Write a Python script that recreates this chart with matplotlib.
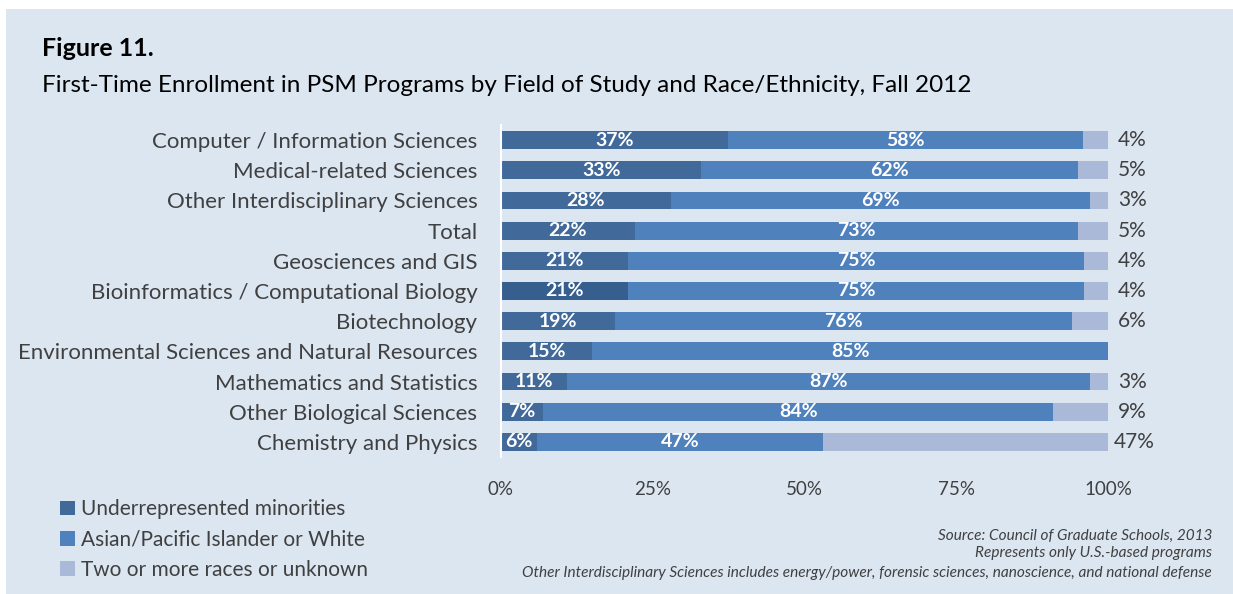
import matplotlib.pyplot as plt
from matplotlib.patches import Rectangle

# Data (percent shares, top row first)
fields = ['Computer / Information Sciences', 'Medical-related Sciences',
          'Other Interdisciplinary Sciences', 'Total', 'Geosciences and GIS',
          'Bioinformatics / Computational Biology', 'Biotechnology',
          'Environmental Sciences and Natural Resources',
          'Mathematics and Statistics', 'Other Biological Sciences',
          'Chemistry and Physics']
minorities = [37, 33, 28, 22, 21, 21, 19, 15, 11, 7, 6]
asian_white = [58, 62, 69, 73, 75, 75, 76, 85, 87, 84, 47]
two_or_more = [4, 5, 3, 5, 4, 4, 6, 0, 3, 9, 47]
series_names = ['Underrepresented minorities', 'Asian/Pacific Islander or White',
                'Two or more races or unknown']
x_ticks = [0, 0.25, 0.5, 0.75, 1.0]
x_ticklabels = ['0%', '25%', '50%', '75%', '100%']
notes = ['Source: Council of Graduate Schools, 2013',
         'Represents only U.S.-based programs',
         'Other Interdisciplinary Sciences includes energy/power, forensic sciences, nanoscience, and national defense']

BG = '#dce6f1'
DARK = '#416a9b'
MID = '#4f81bd'
LIGHT = '#aab9d7'
TXT = '#404040'
FONT = 'Lato'

plt.rcParams['font.family'] = FONT

fig = plt.figure(figsize=(12.33, 5.94), dpi=100)
fig.patch.set_facecolor('white')
# light blue panel
fig.add_artist(Rectangle((6 / 1233, 0), 1, 1 - 9 / 594, transform=fig.transFigure,
                         facecolor=BG, edgecolor='none', zorder=-10))

ax = fig.add_axes([501 / 1233, 1 - 457 / 594, 607 / 1233, 332 / 594])
ax.patch.set_alpha(0)

n = len(fields)
ypos = list(range(n - 1, -1, -1))
totals = [a + b + c for a, b, c in zip(minorities, asian_white, two_or_more)]
s1 = [a / t for a, t in zip(minorities, totals)]
s2 = [b / t for b, t in zip(asian_white, totals)]
s3 = [c / t for c, t in zip(two_or_more, totals)]
left2 = s1
left3 = [a + b for a, b in zip(s1, s2)]

h = 0.59
dark_colors = [DARK] * n
dark_colors[fields.index('Bioinformatics / Computational Biology')] = '#365e8f'
b1 = ax.barh(ypos, s1, height=h, color=dark_colors, edgecolor='none', label=series_names[0])
b2 = ax.barh(ypos, s2, left=left2, height=h, color=MID, edgecolor='none', label=series_names[1])
b3 = ax.barh(ypos, s3, left=left3, height=h, color=LIGHT, edgecolor='none', label=series_names[2])

for i in range(n):
    y = ypos[i]
    ax.text(s1[i] / 2, y, f'{minorities[i]}%', ha='center', va='center',
            color='white', fontsize=14, fontweight='bold')
    ax.text(left2[i] + s2[i] / 2, y, f'{asian_white[i]}%', ha='center', va='center',
            color='white', fontsize=14, fontweight='bold')
    if two_or_more[i] > 0:
        ax.text(1.0 + 0.016 if two_or_more[i] < 10 else 1.0 + 0.01, y,
                f'{two_or_more[i]}%', ha='left', va='center', color=TXT, fontsize=15)

ax.set_xlim(0, 1)
ax.set_ylim(-0.5, n - 0.5)
ax.set_yticks(ypos)
ax.set_yticklabels(fields, fontsize=16, color=TXT)
ax.set_xticks(x_ticks)
ax.set_xticklabels(x_ticklabels, fontsize=13.5, color=TXT)
ax.tick_params(axis='y', length=0, pad=17)
ax.tick_params(axis='x', length=0, pad=17)
for side in ['top', 'right', 'bottom']:
    ax.spines[side].set_visible(False)
ax.spines['left'].set_color('white')
ax.spines['left'].set_linewidth(1.5)

# Titles
fig.text(42 / 1233, 1 - 48 / 594, 'Figure 11.', fontsize=18, fontweight='bold',
         color='black', va='center', ha='left')
fig.text(42 / 1233, 1 - 86 / 594,
         'First-Time Enrollment in PSM Programs by Field of Study and Race/Ethnicity, Fall 2012',
         fontsize=17.5, color='black', va='center', ha='left')

# Legend
leg = fig.legend([b1.patches[0], b2.patches[0], b3.patches[0]], series_names,
                 loc='upper left', bbox_to_anchor=(52 / 1233, 1 - 491 / 594),
                 frameon=False, fontsize=15, handlelength=0.72, handleheight=0.72,
                 handletextpad=0.25, labelspacing=0.5, borderaxespad=0)
for t in leg.get_texts():
    t.set_color(TXT)

# Notes
for note, yy in zip(notes, [536, 553, 573]):
    fig.text(1212 / 1233, 1 - yy / 594, note, fontsize=11.1, style='italic',
             color=TXT, ha='right', va='center')

fig.savefig('out.png', dpi=100, facecolor='white')
